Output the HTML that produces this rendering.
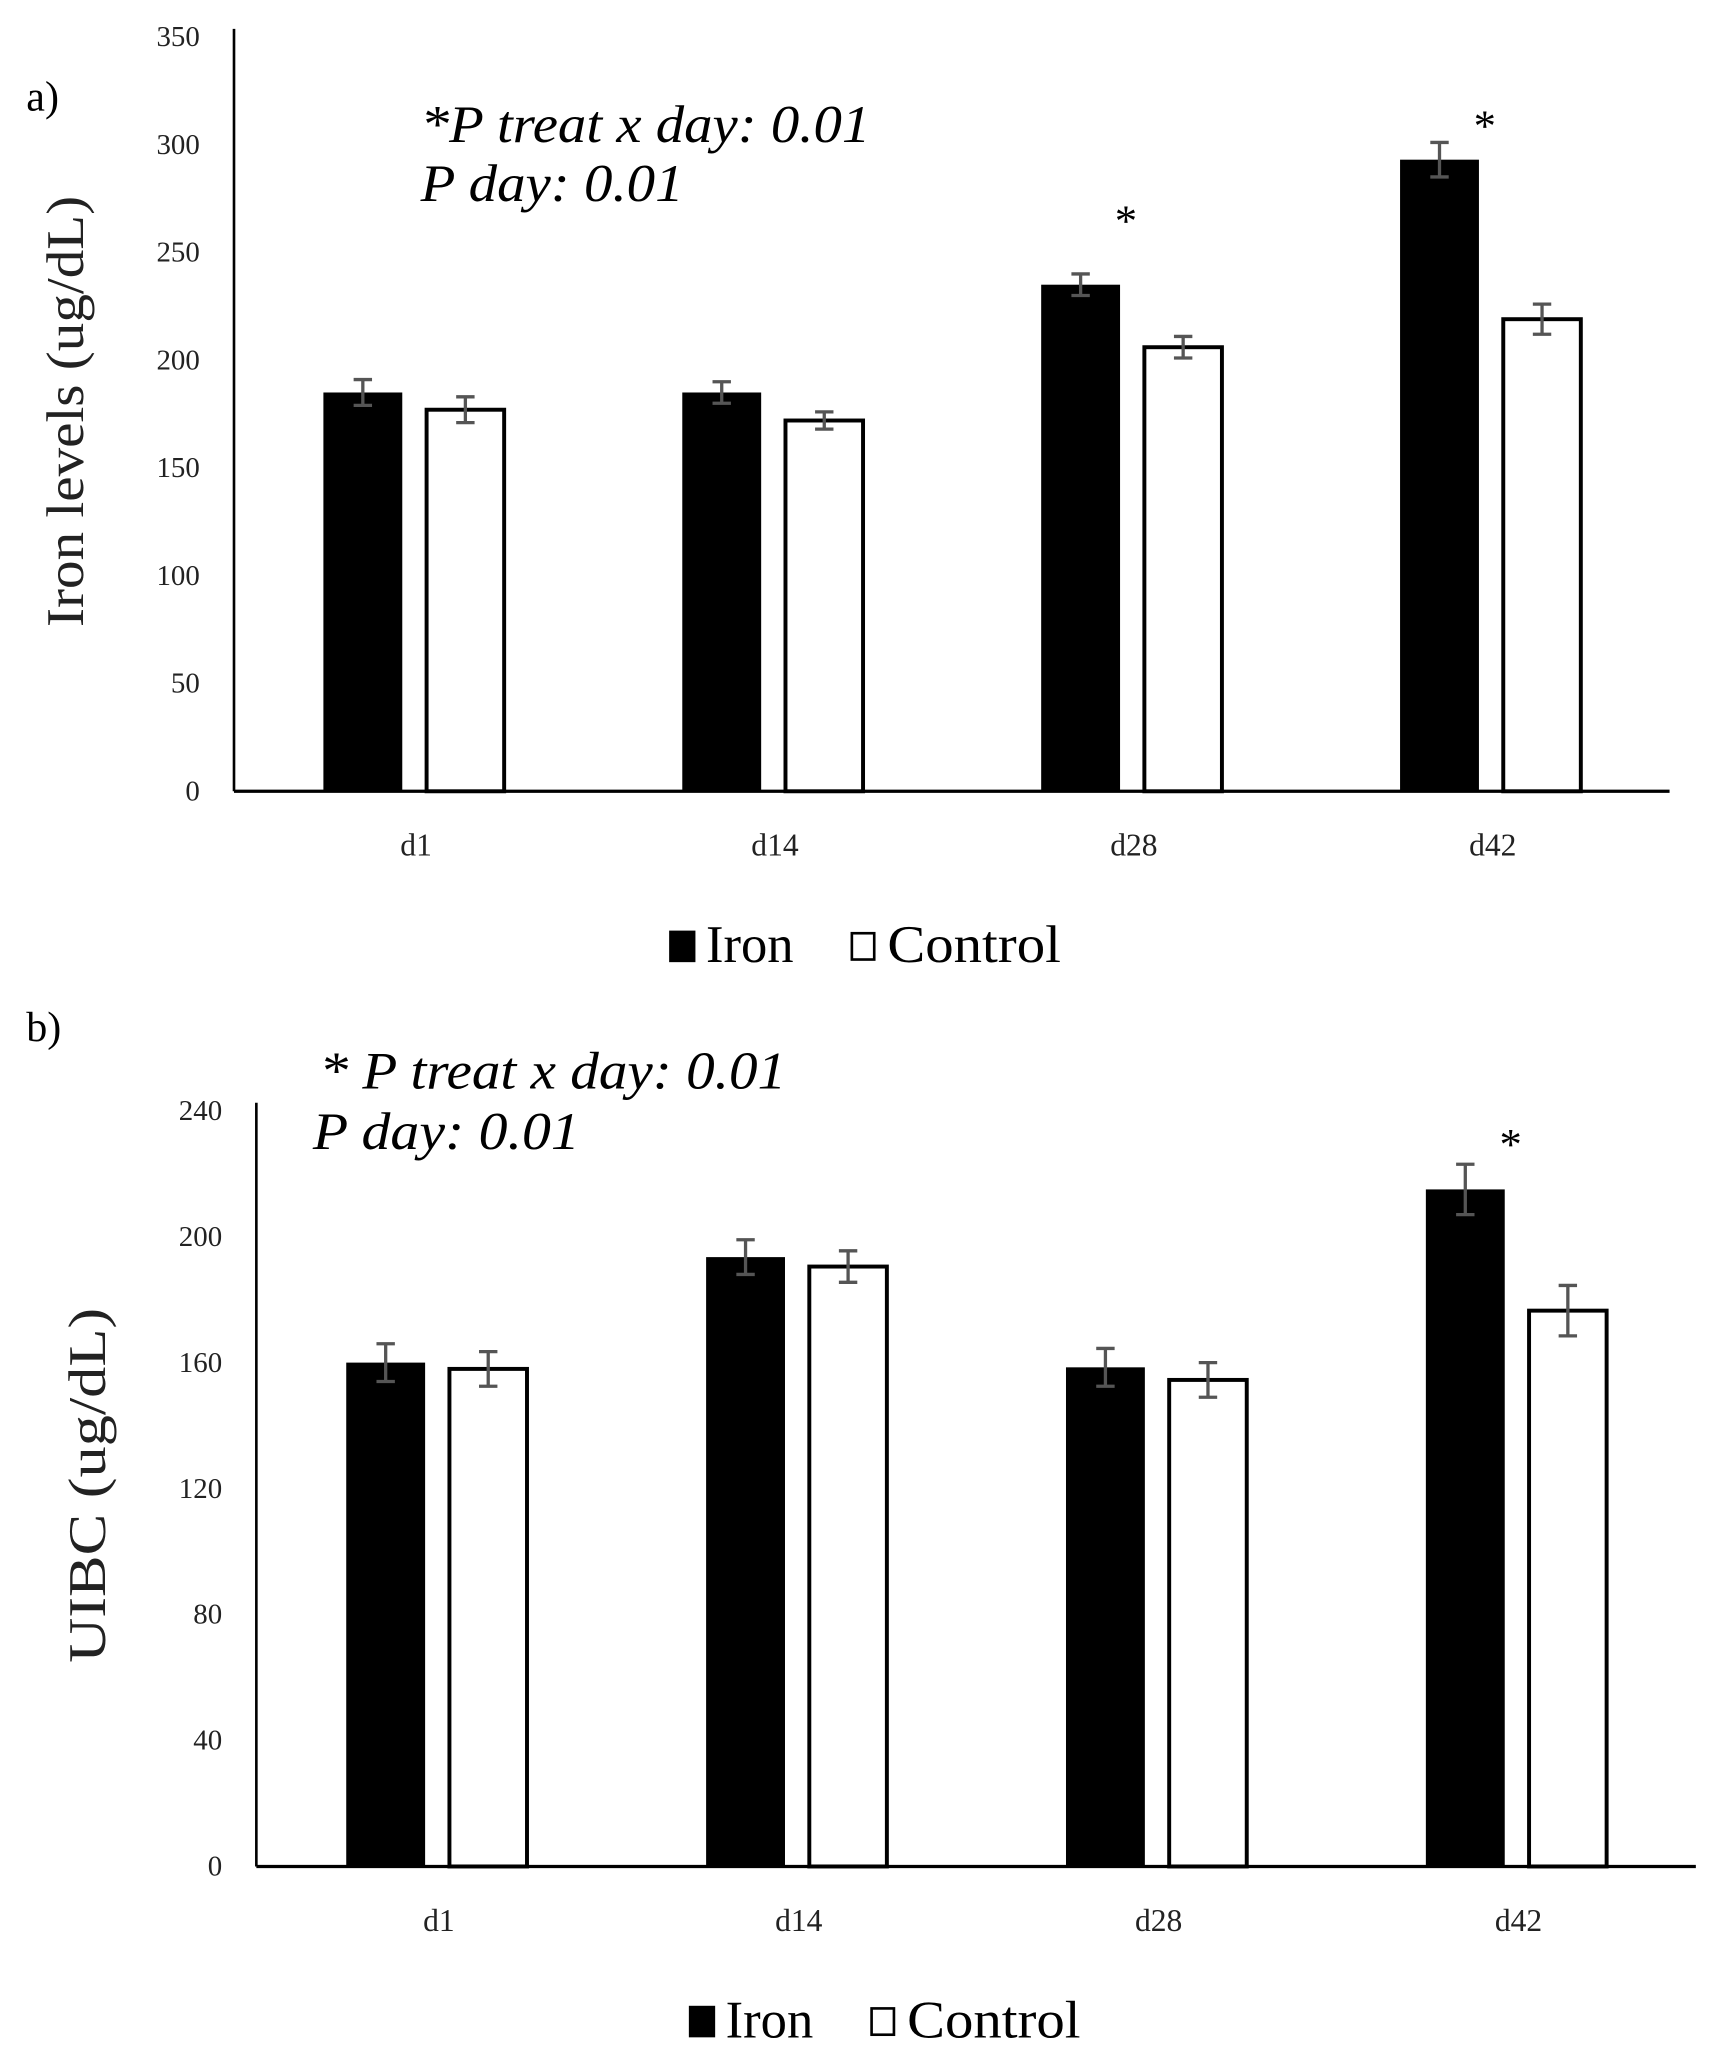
<!DOCTYPE html>
<html><head><meta charset="utf-8"><style>
html,body{margin:0;padding:0;background:#fff;}
svg{display:block;font-family:"Liberation Serif",serif;}
</style></head><body>
<svg id="chart" width="1709" height="2061" viewBox="0 0 1300 1568" preserveAspectRatio="none" xmlns="http://www.w3.org/2000/svg"></svg>
<script>
const categories = ["d1","d14","d28","d42"];
const ironA = [185,185,235,293];
const controlA = [177,172,206,219];
const ironErrA = [6,5,5,8];
const controlErrA = [6,4,5,7];
const sigLevelA = [null,null,270,314];
const ticksA = [0,50,100,150,200,250,300,350];

const ironB = [160,193.5,158.5,215];
const controlB = [158,190.5,154.5,176.5];
const ironErrB = [6,5.5,6,8];
const controlErrB = [5.5,5,5.5,8];
const sigLevelB = [null,null,null,233];
const ticksB = [0,40,80,120,160,200,240];

const svg = document.getElementById('chart');
const NS = "http://www.w3.org/2000/svg";
function mk(tag, attrs, text){
  const e = document.createElementNS(NS, tag);
  for (const k in attrs) e.setAttribute(k, attrs[k]);
  if (text !== undefined) e.textContent = text;
  svg.appendChild(e);
  return e;
}

function panel(cfg){
  const {x0,x1,y0,yTop,max,ticks,iron,control,ie,ce,sig,prefix} = cfg;
  const yScale = v => y0 - v/max*(y0-yTop);
  const band = (x1-x0)/categories.length;
  const xCenter = i => x0 + band*(i+0.5);
  let e;
  e = mk('line',{x1:x0,y1:yTop-6,x2:x0,y2:y0,stroke:'#000','stroke-width':2});
  
  
  ticks.forEach(t=>{
    const tx = mk('text',{x:x0-26,y:yScale(t)+7,'text-anchor':'end','font-size':22,fill:'#222'}, String(t));
    
    
  });
  categories.forEach((c,i)=>{
    const cx = xCenter(i);
    const bw = 60, gap = 17;
    const ix = cx - gap/2 - bw, cxx = cx + gap/2;
    const r1 = mk('rect',{x:ix,y:yScale(iron[i]),width:bw,height:y0-yScale(iron[i]),fill:'#000'});
    
    
    const r2 = mk('rect',{x:cxx+1.5,y:yScale(control[i]),width:bw-1,height:y0-yScale(control[i]),fill:'#fff',stroke:'#000','stroke-width':3});
    
    
    [[ix+bw/2,iron[i],ie[i],'iron'],[cxx+bw/2+1,control[i],ce[i],'control']].forEach(([ex,v,er,s])=>{
      const g = mk('path',{d:`M${ex},${yScale(v+er)}V${yScale(v-er)}M${ex-7},${yScale(v+er)}H${ex+7}M${ex-7},${yScale(v-er)}H${ex+7}`,stroke:'#555','stroke-width':2.5,fill:'none'});
      
      
    });
    const lb = mk('text',{x:cx+2,y:y0+49,'text-anchor':'middle','font-size':24,fill:'#222'}, c);
    
    
    if (sig[i] !== null) {
      const s = mk('text',{x:cx-4,y:yScale(sig[i])+20,'text-anchor':'middle','font-size':34,fill:'#000'}, '*');
      
      
    }
  });
  e = mk('line',{x1:x0,y1:y0,x2:x1,y2:y0,stroke:'#000','stroke-width':2.5});
  
  
}

panel({x0:178,x1:1270,y0:602,yTop:28,max:350,ticks:ticksA,iron:ironA,control:controlA,ie:ironErrA,ce:controlErrA,sig:sigLevelA,prefix:'a'});
panel({x0:195,x1:1290,y0:1420,yTop:845,max:240,ticks:ticksB,iron:ironB,control:controlB,ie:ironErrB,ce:controlErrB,sig:sigLevelB,prefix:'b'});

function txt(name,attrs,content){
  const e = mk('text',attrs,content);
  
  
  return e;
}
txt('panel-a-label',{x:20,y:84,'font-size':32},'a)');
txt('panel-b-label',{x:20,y:792,'font-size':32},'b)');
txt('a-stat-interaction',{x:320,y:108,'font-size':40,'font-style':'italic',textLength:342,lengthAdjust:'spacingAndGlyphs'},'*P treat x day: 0.01');
txt('a-stat-day',{x:320,y:153,'font-size':40,'font-style':'italic',textLength:200,lengthAdjust:'spacingAndGlyphs'},'P day: 0.01');
txt('b-stat-interaction',{x:243,y:828,'font-size':40,'font-style':'italic',textLength:355,lengthAdjust:'spacingAndGlyphs'},'* P treat x day: 0.01');
txt('b-stat-day',{x:238,y:874,'font-size':40,'font-style':'italic',textLength:203,lengthAdjust:'spacingAndGlyphs'},'P day: 0.01');
txt('a-y-axis-title',{x:0,y:0,'font-size':40,'text-anchor':'middle',fill:'#222',transform:'translate(63,313) rotate(-90)',textLength:328,lengthAdjust:'spacingAndGlyphs'},'Iron levels (ug/dL)');
txt('b-y-axis-title',{x:0,y:0,'font-size':40,'text-anchor':'middle',fill:'#222',transform:'translate(80,1130) rotate(-90)','xml:space':'preserve',textLength:270,lengthAdjust:'spacingAndGlyphs'},'UIBC  (ug/dL)');

function legend(prefix,x,y){
  let r = mk('rect',{x:x,y:y-22,width:20,height:24,fill:'#000'});
  
  
  txt(prefix+'-legend-iron',{x:x+28,y:y+2,'font-size':40},'Iron');
  r = mk('rect',{x:x+139,y:y-20,width:17,height:20,fill:'#fff',stroke:'#000','stroke-width':2});
  
  
  txt(prefix+'-legend-control',{x:x+166,y:y+2,'font-size':40,textLength:132,lengthAdjust:'spacingAndGlyphs'},'Control');
}
legend('a',509,730);
legend('b',524,1548);
</script>
</body></html>
